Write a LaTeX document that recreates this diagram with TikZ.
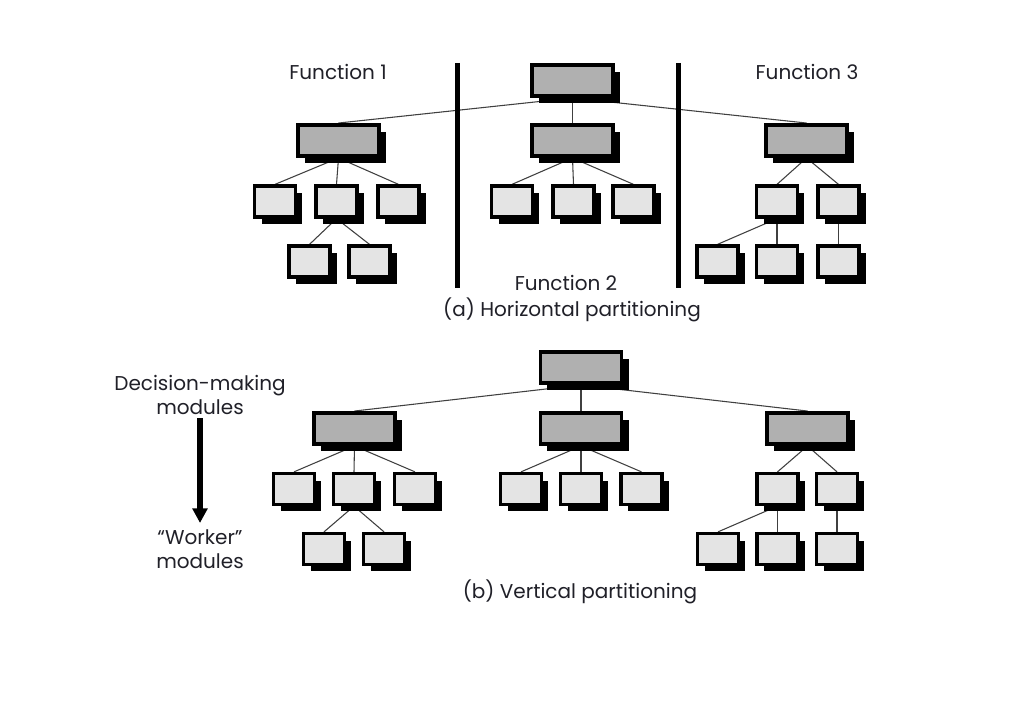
\documentclass[tikz,border=0pt]{standalone}
\usepackage{fontspec}
\setmainfont{Poppins}
\usetikzlibrary{shadows,backgrounds,arrows.meta}
\begin{document}
\begin{tikzpicture}[x=0.75pt,y=-0.75pt,
  bigbox/.style={draw=black,line width=2.7pt,fill=bigfill,minimum width=61pt,minimum height=23.5pt,inner sep=0pt,
    drop shadow={shadow xshift=5.25pt,shadow yshift=-5.25pt,fill=black,opacity=1}},
  smallbox/.style={draw=black,line width=2.7pt,fill=smallfill,minimum width=30.5pt,minimum height=23pt,inner sep=0pt,
    drop shadow={shadow xshift=5.25pt,shadow yshift=-5.25pt,fill=black,opacity=1}},
  link/.style={draw=linkcol,line width=0.8pt},
  bar/.style={line width=3.75pt,black},
  lbl/.style={font=\fontsize{15pt}{18pt}\selectfont,text=textcol,inner sep=0pt,align=center}]
\definecolor{bigfill}{HTML}{B0B0B0}
\definecolor{smallfill}{HTML}{E4E4E4}
\definecolor{linkcol}{HTML}{404040}
\definecolor{textcol}{HTML}{202028}
\useasboundingbox (0,0) rectangle (1024,724);
% ---------- (a) ----------
\node[bigbox] (aR) at (572.5,80.5) {};
\node[bigbox] (a1) at (338.5,140.5) {};
\node[bigbox] (a2) at (572.5,140.5) {};
\node[bigbox] (a3) at (806.5,140.5) {};
\node[smallbox] (a11) at (275,201.5) {};
\node[smallbox] (a12) at (336.5,201.5) {};
\node[smallbox] (a13) at (398.5,201.5) {};
\node[smallbox] (a121) at (309.5,261.5) {};
\node[smallbox] (a122) at (369.5,261.5) {};
\node[smallbox] (a21) at (512,201.5) {};
\node[smallbox] (a22) at (573.5,201.5) {};
\node[smallbox] (a23) at (633.5,201.5) {};
\node[smallbox] (a31) at (777,201.5) {};
\node[smallbox] (a32) at (838.5,201.5) {};
\node[smallbox] (a311) at (717.5,261.5) {};
\node[smallbox] (a312) at (777,261.5) {};
\node[smallbox] (a321) at (838.5,261.5) {};
\coordinate (bar1t) at (457,63);
\coordinate (bar1b) at (457,288);
\coordinate (bar2t) at (678,63);
\coordinate (bar2b) at (678,288);
\draw[bar] (bar1t) -- (bar1b);
\draw[bar] (bar2t) -- (bar2b);
\node[lbl] (f1) at (338,72) {Function 1};
\node[lbl] (f3) at (807,72) {Function 3};
\node[lbl] (f2) at (566,283) {Function 2};
\node[lbl] (capa) at (572,310) {(a) Horizontal partitioning};
% ---------- (b) ----------
\node[bigbox] (bR) at (581,367.5) {};
\node[bigbox] (b1) at (354.5,428.5) {};
\node[bigbox] (b2) at (581,428.5) {};
\node[bigbox] (b3) at (807.5,428.5) {};
\node[smallbox] (b11) at (294,489) {};
\node[smallbox] (b12) at (354,489) {};
\node[smallbox] (b13) at (415,489) {};
\node[smallbox] (b121) at (324,549) {};
\node[smallbox] (b122) at (384,549) {};
\node[smallbox] (b21) at (521,489) {};
\node[smallbox] (b22) at (581,489) {};
\node[smallbox] (b23) at (641.5,489) {};
\node[smallbox] (b31) at (777.5,489) {};
\node[smallbox] (b32) at (837,489) {};
\node[smallbox] (b311) at (718,549) {};
\node[smallbox] (b312) at (777.5,549) {};
\node[smallbox] (b321) at (837,549) {};
\node[lbl] (dm) at (200,395) {Decision-making\\modules};
\node[lbl] (wm) at (200,549) {“Worker”\\modules};
\coordinate (arrt) at (200,418);
\coordinate (arrb) at (200,523);
\draw[line width=4.5pt,-{Triangle[length=11pt,width=11pt]}] (arrt) -- (arrb);
\node[lbl] (capb) at (580,592) {(b) Vertical partitioning};
% ---------- links ----------
\begin{scope}[on background layer]
\fill[white] (0,0) rectangle (1024,724);
\foreach \p/\c in {aR/a1,aR/a2,aR/a3,a1/a11,a1/a12,a1/a13,a12/a121,a12/a122,a2/a21,a2/a22,a2/a23,a3/a31,a3/a32,a31/a311,a31/a312,a32/a321,
  bR/b1,bR/b2,bR/b3,b1/b11,b1/b12,b1/b13,b12/b121,b12/b122,b2/b21,b2/b22,b2/b23,b3/b31,b3/b32,b31/b311,b31/b312,b32/b321}
  \draw[link] (\p.south) -- (\c.north);
\end{scope}
\end{tikzpicture}
\end{document}
